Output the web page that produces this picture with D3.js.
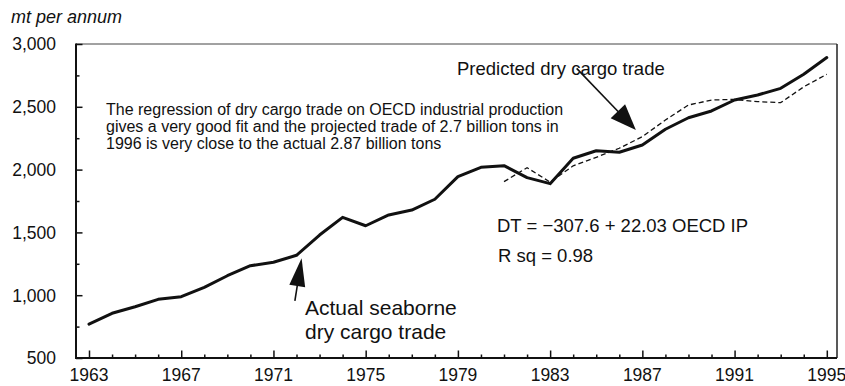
<!DOCTYPE html>
<html>
<head>
<meta charset="utf-8">
<script src="https://cdn.jsdelivr.net/npm/d3@7"></script>
<style>
  html, body { margin: 0; padding: 0; background: #fff; }
  svg { display: block; }
  text { font-family: "Liberation Sans", Arial, Helvetica, sans-serif; fill: #111; }
</style>
</head>
<body>
<svg id="chart" width="845" height="386"></svg>
<script>
// Seaborne dry cargo trade, million tons per annum
const years = [1963, 1964, 1965, 1966, 1967, 1968, 1969, 1970, 1971, 1972, 1973,
  1974, 1975, 1976, 1977, 1978, 1979, 1980, 1981, 1982, 1983, 1984, 1985, 1986,
  1987, 1988, 1989, 1990, 1991, 1992, 1993, 1994, 1995];
const actualTrade = [770, 856, 908, 967, 988, 1063, 1155, 1235, 1262, 1318, 1479,
  1620, 1553, 1639, 1678, 1764, 1944, 2018, 2031, 1936, 1888, 2090, 2150, 2138,
  2196, 2321, 2413, 2467, 2554, 2594, 2647, 2759, 2892];

// Regression estimate: DT = -307.6 + 22.03 OECD IP
const predictedYears = [1981, 1982, 1983, 1984, 1985, 1986, 1987, 1988, 1989,
  1990, 1991, 1992, 1993, 1994, 1995];
const predictedTrade = [1904, 2015, 1900, 2030, 2098, 2170, 2262, 2395, 2514,
  2554, 2559, 2541, 2533, 2659, 2759];

const yTicks = [500, 1000, 1500, 2000, 2500, 3000];
const yMinorTicks = [750, 1250, 1750, 2250, 2750];
const xTickLabels = [1963, 1967, 1971, 1975, 1979, 1983, 1987, 1991, 1995];

const yUnit = "mt per annum";
const noteLines = [
  "The regression of dry cargo trade on OECD industrial production",
  "gives a very good fit and the projected trade of 2.7 billion tons in",
  "1996 is very close to the actual 2.87 billion tons"
];
const equationText = "DT = \u2212307.6 + 22.03 OECD IP";
const rsqText = "R sq = 0.98";

const svg = d3.select("#chart");
const frame = { left: 76, right: 837, top: 44, bottom: 358 };

const x = d3.scaleLinear().domain([1963, 1995]).range([89, 826.8]);
const y = d3.scaleLinear().domain([500, 3000]).range([frame.bottom, frame.top]);

// frame: heavy left/bottom axes, light top/right edges
svg.append("line").attr("x1", frame.left).attr("x2", frame.right)
  .attr("y1", frame.top).attr("y2", frame.top)
  .attr("stroke", "#444").attr("stroke-width", 1);
svg.append("line").attr("x1", frame.right).attr("x2", frame.right)
  .attr("y1", frame.top).attr("y2", frame.bottom)
  .attr("stroke", "#222").attr("stroke-width", 1.5);

// y axis with inward ticks
const yAxis = d3.axisRight(y).tickValues(yTicks).tickSize(6.5).tickFormat("");
const gy = svg.append("g").attr("transform", `translate(${frame.left},0)`).call(yAxis);
gy.select(".domain").remove();
gy.selectAll(".tick line").attr("stroke", "#111").attr("stroke-width", 1.5);
const yAxisMinor = d3.axisRight(y).tickValues(yMinorTicks).tickSize(3.5).tickFormat("");
const gym = svg.append("g").attr("transform", `translate(${frame.left},0)`).call(yAxisMinor);
gym.select(".domain").remove();
gym.selectAll(".tick line").attr("stroke", "#111").attr("stroke-width", 1.5);

svg.append("g").selectAll("text").data(yTicks).join("text")
  .attr("x", 56).attr("y", d => y(d)).attr("dy", "0.36em")
  .attr("text-anchor", "end").attr("font-size", 17.5)
  .text(d => d3.format(",")(d));

// x axis with inward ticks
const xAxis = d3.axisTop(x).tickValues(xTickLabels).tickSize(7.5).tickFormat("");
const gx = svg.append("g").attr("transform", `translate(0,${frame.bottom})`).call(xAxis);
gx.select(".domain").remove();
gx.selectAll(".tick line").attr("stroke", "#111").attr("stroke-width", 1.5);
const xAxisMinor = d3.axisTop(x).tickValues(years.filter(v => !xTickLabels.includes(v)))
  .tickSize(3.5).tickFormat("");
const gxm = svg.append("g").attr("transform", `translate(0,${frame.bottom})`).call(xAxisMinor);
gxm.select(".domain").remove();
gxm.selectAll(".tick line").attr("stroke", "#111").attr("stroke-width", 1.5);

svg.append("g").selectAll("text").data(xTickLabels).join("text")
  .attr("x", d => x(d)).attr("y", 381)
  .attr("text-anchor", "middle").attr("font-size", 17.5)
  .text(d => d);

svg.append("line").attr("x1", frame.left).attr("x2", frame.left)
  .attr("y1", frame.top - 0.5).attr("y2", frame.bottom + 1)
  .attr("stroke", "#111").attr("stroke-width", 2);
svg.append("line").attr("x1", frame.left - 1).attr("x2", frame.right)
  .attr("y1", frame.bottom).attr("y2", frame.bottom)
  .attr("stroke", "#111").attr("stroke-width", 2);

svg.append("text").attr("x", 11).attr("y", 23)
  .attr("font-size", 18).attr("font-style", "italic").text(yUnit);

// series
const line = d3.line().x(d => x(d[0])).y(d => y(d[1]));
svg.append("path")
  .datum(predictedYears.map((yr, i) => [yr, predictedTrade[i]]))
  .attr("d", line).attr("fill", "none")
  .attr("stroke", "#111").attr("stroke-width", 1.3)
  .attr("stroke-dasharray", "5,3");
svg.append("path")
  .datum(years.map((yr, i) => [yr, actualTrade[i]]))
  .attr("d", line).attr("fill", "none")
  .attr("stroke", "#111").attr("stroke-width", 3)
  .attr("stroke-linejoin", "round").attr("stroke-linecap", "round");

// annotation arrows, positioned in data space
function arrow(from, to, headLen, headHalf) {
  const x0 = x(from[0]), y0 = y(from[1]);
  const x1 = x(to[0]), y1 = y(to[1]);
  const dx = x1 - x0, dy = y1 - y0, len = Math.hypot(dx, dy);
  const ux = dx / len, uy = dy / len;
  const bx = x1 - ux * headLen, by = y1 - uy * headLen;
  svg.append("line").attr("x1", x0).attr("y1", y0).attr("x2", bx + ux * 2).attr("y2", by + uy * 2)
    .attr("stroke", "#111").attr("stroke-width", 1.6);
  svg.append("path")
    .attr("d", `M${x1},${y1}L${bx - uy * headHalf},${by + ux * headHalf}` +
      `L${bx + uy * headHalf},${by - ux * headHalf}Z`)
    .attr("fill", "#111");
}
arrow([1984.15, 2806], [1986.72, 2315], 26, 10);
arrow([1971.93, 954], [1972.22, 1294], 28, 8);

// text annotations
svg.append("text").attr("x", 457).attr("y", 75).attr("font-size", 18.5)
  .text("Predicted dry cargo trade");

svg.append("g").selectAll("text").data(noteLines).join("text")
  .attr("x", 106).attr("y", (d, i) => 115 + i * 17)
  .attr("font-size", 16).text(d => d);

svg.append("text").attr("x", 497).attr("y", 232).attr("font-size", 18.5).text(equationText);
svg.append("text").attr("x", 498).attr("y", 262).attr("font-size", 18.5).text(rsqText);

svg.append("text").attr("x", 305).attr("y", 315).attr("font-size", 21).text("Actual seaborne");
svg.append("text").attr("x", 305).attr("y", 339).attr("font-size", 21).text("dry cargo trade");
</script>
</body>
</html>
